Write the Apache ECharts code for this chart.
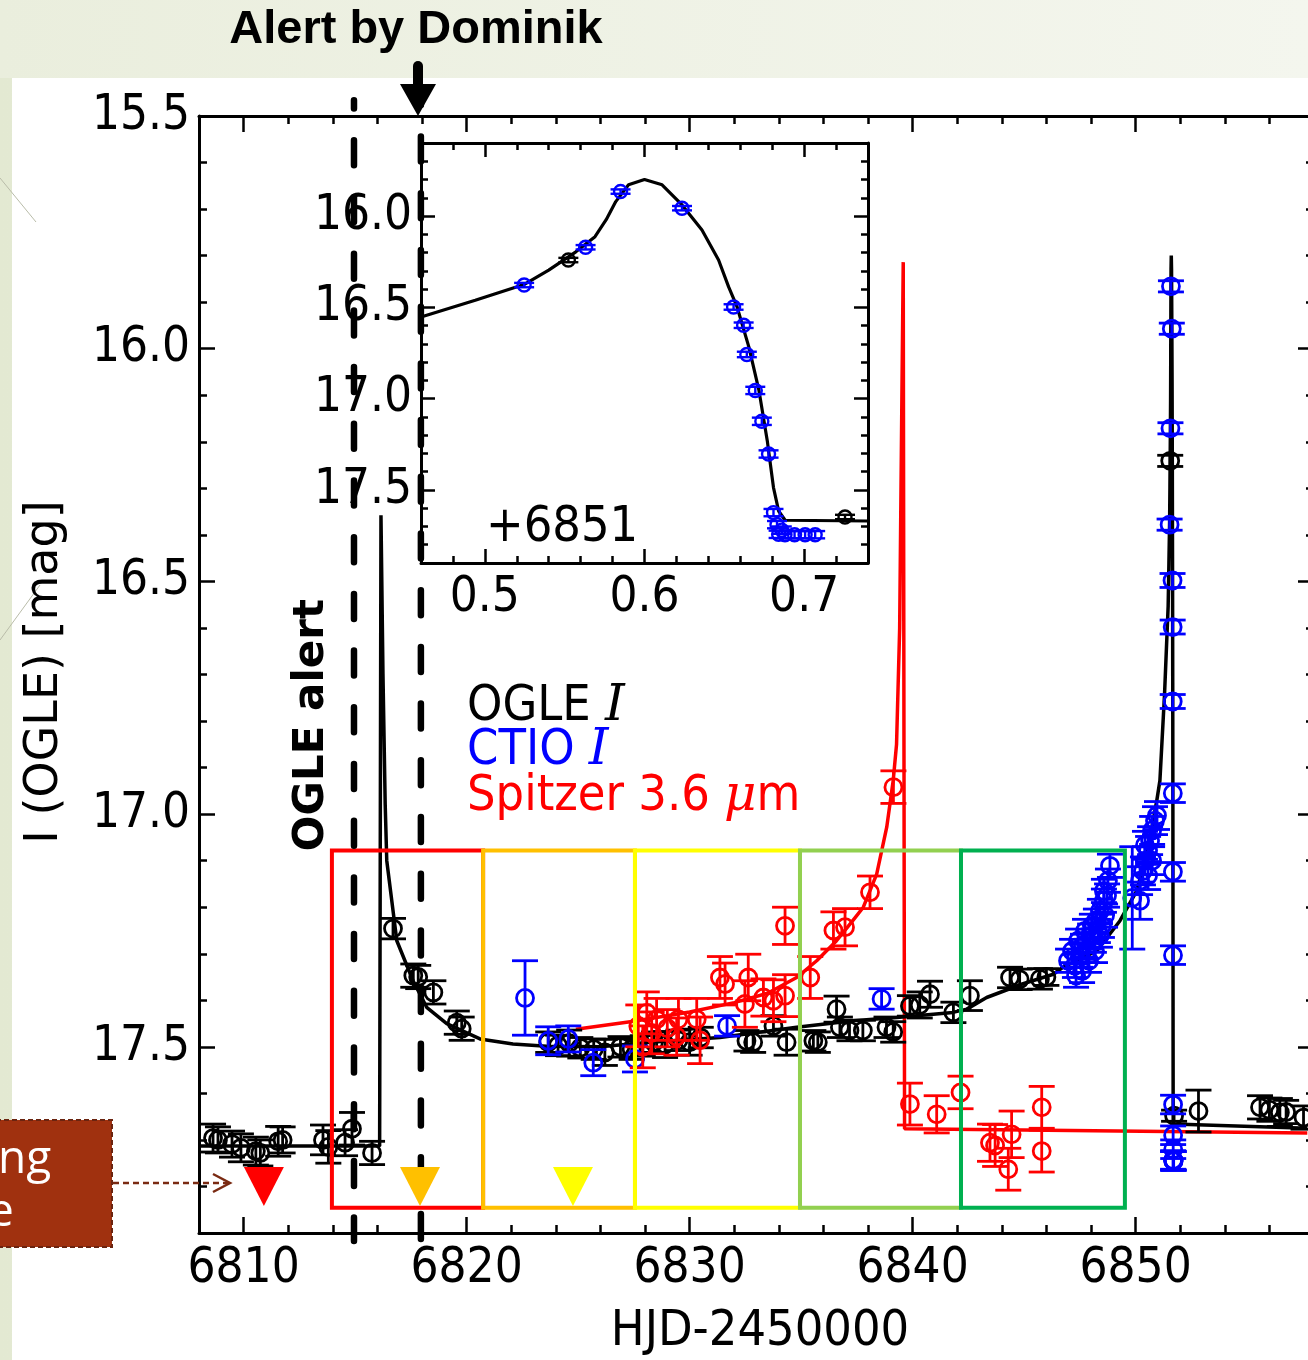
<!DOCTYPE html>
<html><head><meta charset="utf-8">
<script src="https://cdn.jsdelivr.net/npm/echarts@6/dist/echarts.min.js"></script>
<style>html,body{margin:0;padding:0;background:#fff}#c{width:1308px;height:1360px}</style>
</head><body><div id="c"></div>
<script>
const FONT = '"DejaVu Sans Condensed", "DejaVu Sans", sans-serif';
const SPIKE_BASE = 6851;

// ---- tick values ----
const mainXMajor = [6810, 6820, 6830, 6840, 6850];
const mainXMinor = [6810,6812,6814,6816,6818,6820,6822,6824,6826,6828,6830,6832,6834,6836,6838,6840,6842,6844,6846,6848,6850,6852,6854,6856];
const mainYMajor = [15.5, 16.0, 16.5, 17.0, 17.5];
const mainYMinor = [15.6,15.7,15.8,15.9,16.0,16.1,16.2,16.3,16.4,16.5,16.6,16.7,16.8,16.9,17.0,17.1,17.2,17.3,17.4,17.5,17.6,17.7,17.8];
const insetXMajor = [0.5, 0.6, 0.7];
const insetXMinor = [0.48,0.50,0.52,0.54,0.56,0.58,0.60,0.62,0.64,0.66,0.68,0.70,0.72];
const insetYMajor = [16.0, 16.5, 17.0, 17.5];
const insetYMinor = [15.7,15.8,15.9,16.0,16.1,16.2,16.3,16.4,16.5,16.6,16.7,16.8,16.9,17.0,17.1,17.2,17.3,17.4,17.5,17.6,17.7,17.8];

// ---- data: [HJD-2450000, mag, err] ----
const ogleMain = [
 [6808.63,17.696,0.03],[6808.85,17.700,0.028],[6809.48,17.709,0.028],[6809.88,17.717,0.03],[6810.55,17.724,0.03],[6810.75,17.728,0.028],
 [6811.55,17.703,0.032],[6811.75,17.700,0.028],[6813.56,17.700,0.032],[6813.80,17.715,0.035],[6814.55,17.706,0.028],[6814.86,17.676,0.035],[6815.76,17.728,0.025],
 [6816.70,17.246,0.022],[6817.61,17.347,0.025],[6817.83,17.350,0.025],[6818.51,17.383,0.025],[6819.56,17.448,0.025],[6819.78,17.461,0.025],
 [6823.66,17.490,0.022],[6824.10,17.497,0.022],[6824.60,17.492,0.028],[6825.10,17.502,0.022],[6825.70,17.505,0.022],[6826.20,17.512,0.028],
 [6826.90,17.500,0.022],[6827.40,17.505,0.022],[6827.90,17.498,0.022],[6828.40,17.490,0.022],[6828.90,17.495,0.028],[6829.50,17.486,0.022],
 [6830.00,17.490,0.028],[6830.50,17.480,0.022],[6832.55,17.487,0.022],[6832.85,17.490,0.022],[6833.76,17.455,0.022],[6834.35,17.490,0.028],
 [6835.55,17.487,0.022],[6835.75,17.490,0.022],[6836.59,17.419,0.028],[6836.74,17.458,0.022],[6837.17,17.465,0.022],[6837.77,17.465,0.022],
 [6838.83,17.458,0.022],[6839.13,17.468,0.022],[6839.88,17.412,0.022],[6840.32,17.410,0.028],[6840.78,17.387,0.028],[6841.83,17.426,0.022],
 [6842.57,17.390,0.032],[6844.37,17.351,0.022],[6844.80,17.355,0.022],[6845.71,17.354,0.022],[6846.00,17.350,0.018],
 [6852.82,17.638,0.045],[6855.58,17.630,0.025],[6856.00,17.635,0.025],[6856.47,17.641,0.03],[6856.75,17.640,0.025],[6857.53,17.652,0.025]
];
// OGLE points during the caustic exit, x as fraction of day after +6851
const ogleSpike = [[0.5523,16.241,0.012],[0.7256,17.648,0.012]];

const ctioMain = [
 [6822.62,17.395,0.08],[6823.66,17.487,0.03],[6824.56,17.483,0.028],[6825.68,17.534,0.028],[6827.55,17.526,0.028],[6831.68,17.455,0.022],[6838.61,17.397,0.022],
 [6846.97,17.315,0.025],[6847.15,17.294,0.025],[6847.28,17.326,0.025],[6847.42,17.272,0.025],[6847.51,17.304,0.025],[6847.64,17.283,0.025],
 [6847.73,17.251,0.025],[6847.82,17.294,0.025],[6847.96,17.261,0.025],[6848.04,17.240,0.025],[6848.13,17.272,0.025],[6848.22,17.229,0.025],
 [6848.31,17.251,0.025],[6848.40,17.208,0.025],[6848.49,17.240,0.025],[6848.58,17.186,0.025],[6848.63,17.218,0.025],[6848.72,17.175,0.025],
 [6848.76,17.143,0.025],[6848.85,17.111,0.025],[6848.58,17.165,0.025],[6848.40,17.261,0.025],[6848.18,17.294,0.025],[6847.91,17.315,0.025],
 [6847.60,17.337,0.025],[6847.33,17.347,0.025],
 [6849.85,17.180,0.11],[6850.20,17.143,0.03],[6850.33,17.122,0.03],[6850.42,17.100,0.03],[6850.56,17.078,0.03],[6850.65,17.057,0.03],
 [6850.74,17.035,0.03],[6850.87,17.014,0.03],[6850.96,17.003,0.03],[6850.56,17.132,0.03],[6850.74,17.100,0.03],[6850.42,17.067,0.03],[6850.20,17.186,0.04]
];
// CTIO points during the caustic exit, x as fraction of day after +6851
const ctioSpike = [
 [0.5246,16.378,0.012],[0.5631,16.171,0.012],[0.5850,15.866,0.012],[0.6235,15.957,0.012],[0.6558,16.498,0.015],[0.6621,16.598,0.015],
 [0.6641,16.758,0.015],[0.6694,16.955,0.02],[0.6735,17.124,0.02],[0.6777,17.303,0.02],[0.6808,17.624,0.02],[0.6830,17.690,0.02],
 [0.6840,17.743,0.02],[0.6860,17.720,0.02],[0.6880,17.745,0.02],[0.6940,17.745,0.02],[0.7006,17.745,0.02],[0.7069,17.745,0.02]
];

const spitzer = [
 [6827.70,17.455,0.045],[6827.90,17.500,0.045],[6828.08,17.427,0.045],[6828.30,17.470,0.045],[6828.52,17.441,0.045],[6829.00,17.460,0.04],
 [6829.42,17.478,0.04],[6829.50,17.441,0.045],[6830.32,17.441,0.045],[6830.47,17.486,0.05],[6831.36,17.351,0.045],[6831.59,17.365,0.045],
 [6832.48,17.408,0.05],[6832.63,17.351,0.05],[6833.31,17.394,0.04],[6833.76,17.401,0.045],[6834.28,17.240,0.04],[6834.28,17.390,0.045],
 [6835.41,17.351,0.045],[6836.45,17.250,0.04],[6836.97,17.243,0.04],[6838.09,17.168,0.035],[6839.14,16.942,0.035],
 [6839.88,17.623,0.045],[6841.08,17.645,0.04],[6842.15,17.598,0.035],[6843.47,17.706,0.04],[6843.70,17.712,0.045],[6844.29,17.763,0.045],
 [6844.44,17.688,0.05],[6845.79,17.630,0.045],[6845.79,17.724,0.045]
];

// ---- model curves [x, mag] ----
const ogleModelPre = [
 [6808.00,17.713],[6816.10,17.713],[6816.16,16.358],[6816.25,16.700],[6816.35,16.980],[6816.42,17.100],[6816.87,17.272],[6817.60,17.358],
 [6818.21,17.415],[6819.11,17.450],[6820.60,17.483],[6822.08,17.494],[6823.59,17.499],[6825.98,17.500],[6828.22,17.490],[6831.36,17.480],
 [6834.80,17.458],[6837.33,17.444],[6839.29,17.437],[6841.81,17.426],[6842.43,17.419],[6843.32,17.394],[6844.92,17.365],[6846.31,17.344],
 [6846.74,17.329],[6848.26,17.294],[6849.30,17.229],[6850.05,17.165],[6850.57,17.071],[6850.95,16.971],[6851.09,16.928],[6851.30,16.740]
];
// caustic exit (fraction of day after +6851)
const ogleModelSpike = [
 [0.460,16.553],[0.494,16.461],[0.525,16.373],[0.540,16.296],[0.557,16.196],[0.569,16.113],[0.576,16.020],[0.582,15.921],[0.590,15.829],
 [0.600,15.800],[0.611,15.829],[0.6235,15.939],[0.636,16.076],[0.6464,16.241],[0.6527,16.388],[0.658,16.498],[0.6654,16.718],[0.6717,16.955],
 [0.6769,17.230],[0.6808,17.487],[0.684,17.615],[0.6881,17.666],[0.740,17.670]
];
const ogleModelPost = [[6857.70,17.675]];
const spitzerModel = [
 [6824.90,17.462],[6827.50,17.445],[6830.00,17.425],[6832.00,17.405],[6833.50,17.385],[6834.80,17.351],[6835.70,17.315],[6836.59,17.272],
 [6837.30,17.230],[6837.79,17.200],[6838.39,17.129],[6838.84,17.028],[6839.13,16.928],[6839.28,16.850],[6839.42,16.600],[6839.50,16.200],
 [6839.58,15.814],[6839.64,17.676],[6857.70,17.685]
];

// ---- annotations (data units) ----
const boxEdges = [6813.96, 6820.74, 6827.55, 6834.95, 6842.17, 6849.52];
const boxTop = 17.078, boxBottom = 17.846;
const boxColors = ['#ff0000', '#ffc000', '#ffff00', '#92d050', '#00b050'];
const triX = [6810.91, 6817.91, 6824.77];
const triY = 17.80;
const triColors = ['#ff0000', '#ffc000', '#ffff00'];
const alertX = [6814.95, 6817.95];
const alertTop = 15.466, alertBottom = 17.917;
const alertDashOffset = [16.6, 20.3];

// ---------------------------------------------------------------
const shift = arr => arr.map(p => [p[0] + SPIKE_BASE].concat(p.slice(1)));

function mkAxis(gridIndex, position, min, max, tickVals, tickLen, labelVals, showLine, inverse, margin, fmt) {
  return {
    type: 'value', gridIndex, position, min, max, inverse: !!inverse,
    axisLine: {show: showLine, onZero: false, lineStyle: {color: '#000', width: 3}},
    axisTick: {show: true, inside: true, length: tickLen, customValues: tickVals, lineStyle: {color: '#000', width: 2.5}},
    axisLabel: labelVals ? {show: true, customValues: labelVals, margin: margin, color: '#000', fontFamily: FONT, fontSize: 49, formatter: fmt} : {show: false},
    splitLine: {show: false}
  };
}
const fx0 = v => String(Math.round(v));
const fx1 = v => Number(v).toFixed(1);

const xAxis = [
  mkAxis(0, 'bottom', 6808, 6858, mainXMajor, 16, mainXMajor, true, false, 12, fx0),
  mkAxis(0, 'bottom', 6808, 6858, mainXMinor, 8, null, false),
  mkAxis(0, 'top', 6808, 6858, mainXMajor, 16, null, true),
  mkAxis(0, 'top', 6808, 6858, mainXMinor, 8, null, false),
  mkAxis(1, 'bottom', 0.46, 0.74, insetXMajor, 14, insetXMajor, true, false, 11, fx1),
  mkAxis(1, 'bottom', 0.46, 0.74, insetXMinor, 7, null, false),
  mkAxis(1, 'top', 0.46, 0.74, insetXMajor, 14, null, true),
  mkAxis(1, 'top', 0.46, 0.74, insetXMinor, 7, null, false)
];
const yAxis = [
  mkAxis(0, 'left', 15.5, 17.9, mainYMajor, 16, mainYMajor, true, true, 9, fx1),
  mkAxis(0, 'left', 15.5, 17.9, mainYMinor, 8, null, false, true),
  mkAxis(0, 'right', 15.5, 17.9, mainYMajor, 16, null, true, true),
  mkAxis(0, 'right', 15.5, 17.9, mainYMinor, 8, null, false, true),
  mkAxis(1, 'left', 15.6, 17.9, insetYMajor, 14, insetYMajor, true, true, 9, fx1),
  mkAxis(1, 'left', 15.6, 17.9, insetYMinor, 7, null, false, true),
  mkAxis(1, 'right', 15.6, 17.9, insetYMajor, 14, null, true, true),
  mkAxis(1, 'right', 15.6, 17.9, insetYMinor, 7, null, false, true)
];

function errSeries(data, color, ax, r, cap, lw, z) {
  return {
    type: 'custom', xAxisIndex: ax, yAxisIndex: ax, data, clip: true, z: z || 3,
    dimensions: ['x', 'y', 'e'], encode: {x: 0, y: 1},
    renderItem: function (params, api) {
      const x = api.value(0), y = api.value(1), e = api.value(2);
      const c = api.coord([x, y]);
      const t = api.coord([x, y - e])[1], b = api.coord([x, y + e])[1];
      const st = {stroke: color, lineWidth: lw, fill: null};
      return {type: 'group', children: [
        {type: 'line', shape: {x1: c[0], y1: t, x2: c[0], y2: b}, style: st},
        {type: 'line', shape: {x1: c[0] - cap, y1: t, x2: c[0] + cap, y2: t}, style: st},
        {type: 'line', shape: {x1: c[0] - cap, y1: b, x2: c[0] + cap, y2: b}, style: st},
        {type: 'circle', shape: {cx: c[0], cy: c[1], r: r}, style: {stroke: color, lineWidth: lw, fill: 'none'}}
      ]};
    }
  };
}
function lineSeries(data, color, ax, z, w) {
  return {type: 'line', xAxisIndex: ax, yAxisIndex: ax, data, showSymbol: false, symbol: 'none', smooth: false,
    lineStyle: {color, width: w || 3.5}, z: z || 2, clip: true, animation: false};
}

const mainBlackModel = ogleModelPre.concat(shift(ogleModelSpike), ogleModelPost);

const series = [
  lineSeries(spitzerModel, '#ff0000', 0, 2, 3.5),
  lineSeries(mainBlackModel, '#000000', 0, 2, 3.5),
  errSeries(ogleMain.concat(shift(ogleSpike)), '#000000', 0, 8.5, 13, 2.8, 3),
  errSeries(ctioMain.concat(shift(ctioSpike)), '#0000ff', 0, 8.5, 13, 2.8, 3),
  errSeries(spitzer, '#ff0000', 0, 8.5, 13, 2.8, 3),
  {
    type: 'custom', xAxisIndex: 0, yAxisIndex: 0, z: 4, clip: false,
    data: boxColors.map((c, i) => [boxEdges[i], boxEdges[i + 1], boxTop, boxBottom]),
    renderItem: function (params, api) {
      const p0 = api.coord([api.value(0), api.value(2)]);
      const p1 = api.coord([api.value(1), api.value(3)]);
      return {type: 'rect', shape: {x: p0[0], y: p0[1], width: p1[0] - p0[0], height: p1[1] - p0[1]},
        style: {fill: 'none', stroke: boxColors[params.dataIndex], lineWidth: 4}};
    }
  },
  {
    type: 'custom', xAxisIndex: 0, yAxisIndex: 0, z: 5, clip: false,
    data: alertX.map(x => [x, alertTop, alertBottom]),
    renderItem: function (params, api) {
      const p0 = api.coord([api.value(0), api.value(1)]);
      const p1 = api.coord([api.value(0), api.value(2)]);
      return {type: 'line', shape: {x1: p0[0], y1: p0[1], x2: p1[0], y2: p1[1]},
        style: {stroke: '#000', lineWidth: 6.5, lineDash: [25, 31.7], lineDashOffset: alertDashOffset[params.dataIndex], lineCap: 'round'}};
    }
  },
  {
    type: 'scatter', xAxisIndex: 0, yAxisIndex: 0, z: 6, symbol: 'triangle', symbolRotate: 180, symbolSize: [40, 39],
    data: triX.map((x, i) => ({value: [x, triY], itemStyle: {color: triColors[i], opacity: 1}})),
    clip: false, silent: true
  },
  // inset
  lineSeries(ogleModelSpike, '#000000', 4, 7, 3.2),
  errSeries(ctioSpike, '#0000ff', 4, 6.5, 10, 2.4, 8),
  errSeries(ogleSpike, '#000000', 4, 6.5, 10, 2.4, 8)
];

function txt(x, y, text, opt) {
  return {type: 'text', x, y, z: 100, style: Object.assign({text, fill: '#000', fontFamily: FONT, fontSize: 49,
    align: 'left', textAlign: 'left', verticalAlign: 'middle', textVerticalAlign: 'middle'}, opt || {})};
}

const graphic = [
  {type: 'rect', z: -100, shape: {x: 0, y: 0, width: 1308, height: 1360},
    style: {fill: new echarts.graphic.LinearGradient(0, 0, 1, 0, [{offset: 0, color: '#e3e9d2'}, {offset: 1, color: '#f2f4ea'}])}},
  {type: 'rect', z: -99, shape: {x: 0, y: 0, width: 1308, height: 78},
    style: {fill: new echarts.graphic.LinearGradient(0, 0, 1, 0, [{offset: 0, color: '#eaeedd'}, {offset: 1, color: '#f4f6ee'}])}},
  {type: 'rect', z: -98, shape: {x: 12, y: 78, width: 1296, height: 1282}, style: {fill: '#ffffff'}},
  {type: 'line', z: -97, shape: {x1: 0, y1: 178, x2: 36, y2: 222}, style: {stroke: '#b9bca9', lineWidth: 1}},
  {type: 'line', z: -97, shape: {x1: 0, y1: 640, x2: 40, y2: 585}, style: {stroke: '#b9bca9', lineWidth: 1}},
  // Alert by Dominik
  txt(416, 30, 'Alert by Dominik', {fontFamily: '"Liberation Sans", Arial, sans-serif', fontWeight: 'bold', fontSize: 47, align: 'center', textAlign: 'center'}),
  {type: 'rect', z: 100, shape: {x: 413, y: 61, width: 10, height: 28, r: 5}, style: {fill: '#000'}},
  {type: 'polygon', z: 100, shape: {points: [[400, 84], [436, 84], [418, 116]]}, style: {fill: '#000'}},
  // brown box (cropped slide object)
  {type: 'rect', z: 100, shape: {x: -4, y: 1120, width: 116, height: 127}, style: {fill: '#a0310f', stroke: '#6b2410', lineWidth: 2, lineDash: [5, 3]}},
  txt(-2, 1160, 'ng', {fill: '#ffffff', fontFamily: '"Open Sans", sans-serif', fontSize: 46}),
  txt(-12, 1213, 'e', {fill: '#ffffff', fontFamily: '"Open Sans", sans-serif', fontSize: 46}),
  {type: 'line', z: 100, shape: {x1: 113, y1: 1183, x2: 228, y2: 1183}, style: {stroke: '#7a2a12', lineWidth: 2.5, lineDash: [6, 4]}},
  {type: 'polyline', z: 100, shape: {points: [[213, 1174], [230, 1183], [213, 1192]]}, style: {stroke: '#7a2a12', lineWidth: 2.5, fill: null}},
  // axis titles
  txt(760, 1332, 'HJD-2450000', {fontSize: 50, align: 'center', textAlign: 'center'}),
  Object.assign(txt(0, 0, 'I (OGLE) [mag]', {fontFamily: '"DejaVu Sans", sans-serif', fontSize: 46, align: 'center', textAlign: 'center'}), {x: 45, y: 672, rotation: Math.PI / 2}),
  Object.assign(txt(0, 0, 'OGLE alert', {fontFamily: '"DejaVu Sans", sans-serif', fontWeight: 'bold', fontSize: 42, align: 'center', textAlign: 'center'}), {x: 312, y: 725, rotation: Math.PI / 2}),
  // inset day label
  txt(486, 528, '+6851', {fontSize: 50}),
  // legend
  {type: 'text', z: 100, x: 467, y: 707, style: {text: '{a|OGLE }{b|I}', verticalAlign: 'middle', textVerticalAlign: 'middle',
    rich: {a: {fontFamily: FONT, fontSize: 50, fill: '#000'}, b: {fontFamily: '"DejaVu Serif", serif', fontStyle: 'italic', fontSize: 50, fill: '#000'}}}},
  {type: 'text', z: 100, x: 467, y: 751, style: {text: '{a|CTIO }{b|I}', verticalAlign: 'middle', textVerticalAlign: 'middle',
    rich: {a: {fontFamily: FONT, fontSize: 50, fill: '#0000ff'}, b: {fontFamily: '"DejaVu Serif", serif', fontStyle: 'italic', fontSize: 50, fill: '#0000ff'}}}},
  {type: 'text', z: 100, x: 467, y: 797, style: {text: '{a|Spitzer 3.6 }{b|\u03bc}{a|m}', verticalAlign: 'middle', textVerticalAlign: 'middle',
    rich: {a: {fontFamily: FONT, fontSize: 50, fill: '#ff0000'}, b: {fontFamily: '"DejaVu Serif", serif', fontStyle: 'italic', fontSize: 50, fill: '#ff0000'}}}}
];

const chart = echarts.init(document.getElementById('c'), null, {renderer: 'canvas', width: 1308, height: 1360});
chart.setOption({
  animation: false,
  backgroundColor: 'transparent',
  grid: [
    {left: 199, top: 116, width: 1115, height: 1117, show: false, containLabel: false, outerBoundsMode: 'none'},
    {left: 421, top: 143, width: 447, height: 420, show: false, containLabel: false, outerBoundsMode: 'none'}
  ],
  xAxis, yAxis, series, graphic
});
</script></body></html>
